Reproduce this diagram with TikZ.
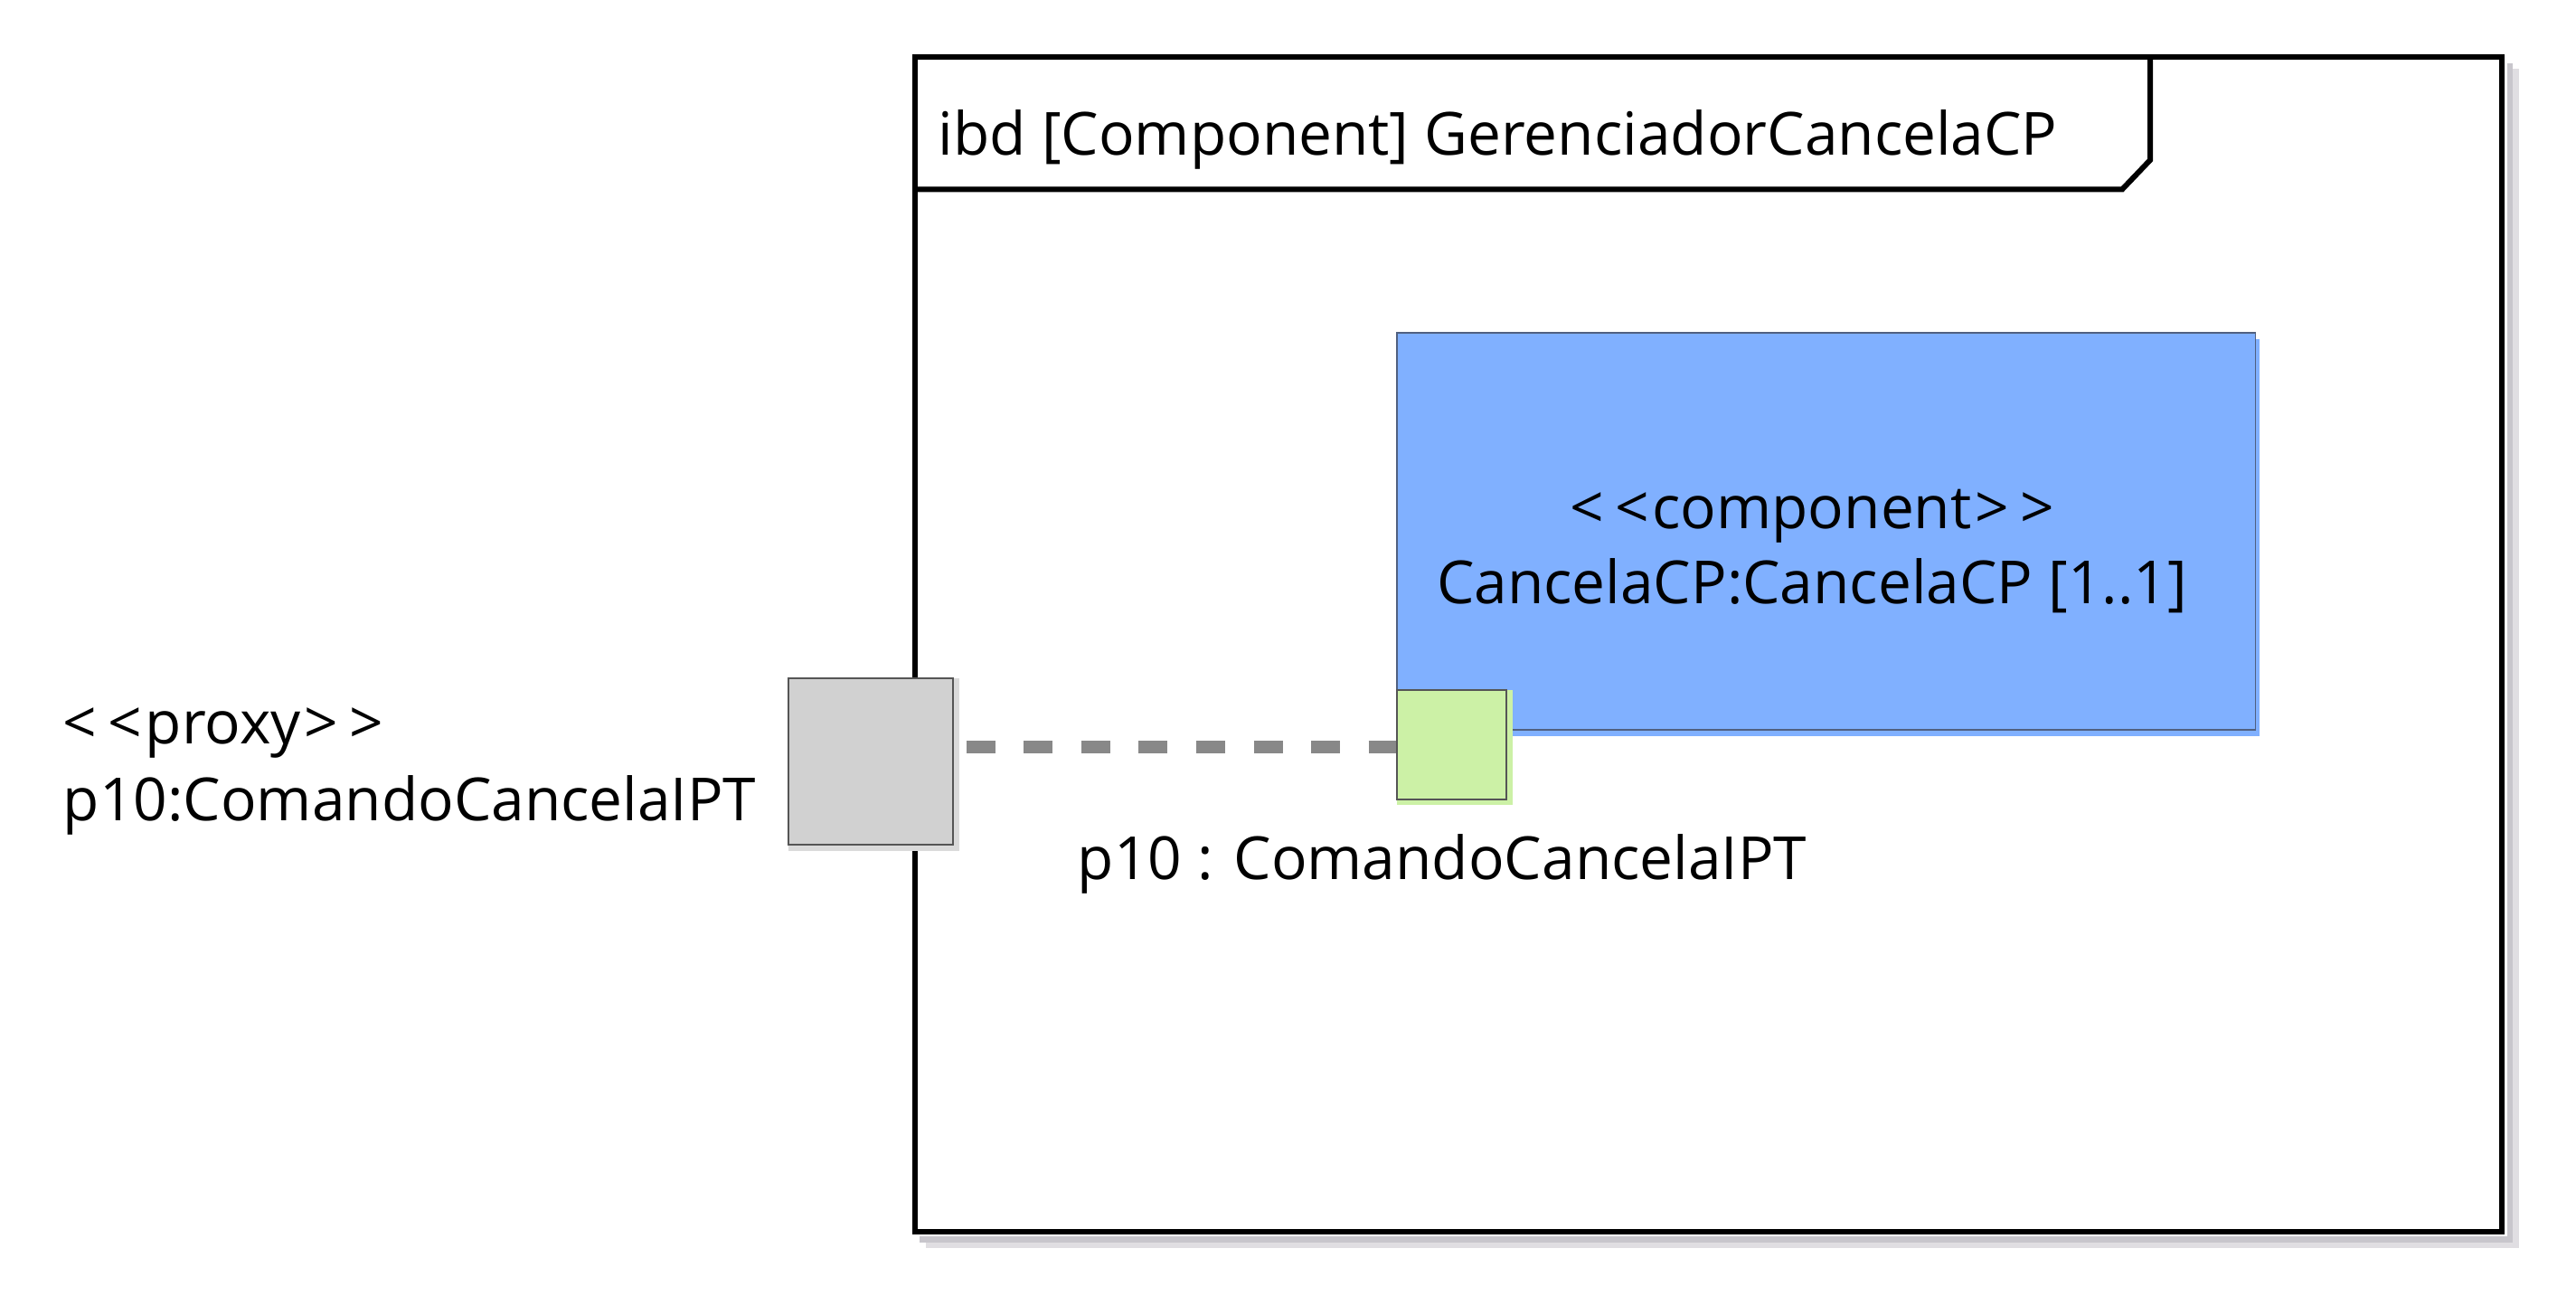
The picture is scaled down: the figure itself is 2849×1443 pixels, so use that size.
\documentclass[tikz,border=0pt]{standalone}
\usepackage{fontspec}
\setmainfont{Open Sans}[Ligatures=TeXOff]
\definecolor{shadowdark}{RGB}{200,198,204}
\definecolor{shadowlight}{RGB}{224,222,226}
\definecolor{compblue}{RGB}{128,176,255}
\definecolor{compborder}{RGB}{80,96,128}
\definecolor{portgreen}{RGB}{204,241,166}
\definecolor{proxygray}{RGB}{209,209,209}
\definecolor{proxyshadow}{RGB}{218,218,218}
\definecolor{portborder}{RGB}{85,85,85}
\definecolor{connector}{RGB}{136,136,136}
\newcommand{\stlt}{<\kern3.5pt<\kern1pt}
\newcommand{\stgt}{\kern1pt>\kern3.5pt>}
\begin{document}
\begin{tikzpicture}[x=0.01cm,y=-0.01cm,
  lbl/.style={inner sep=0pt, font=\fontsize{18.7}{23.5}\selectfont},
  frameline/.style={line width=0.06cm, black, line join=miter},
  compbox/.style={draw=compborder, line width=0.015cm, fill=compblue, inner sep=0pt},
  portbox/.style={draw=portborder, line width=0.015cm, inner sep=0pt},
  connline/.style={draw=connector, line width=0.13cm, dash pattern=on 0.32cm off 0.315cm}]
\useasboundingbox (0,0) rectangle (2849,1443);
% frame with shadow
\fill[shadowlight] (1024,76) rectangle (2786,1380);
\fill[shadowdark] (1017,70) rectangle (2779,1374);
\fill[white] (1008,60) rectangle (2773,1367);
\draw[frameline] (1011.5,63.5) rectangle (2766.5,1361.5);
\draw[frameline] (1011.5,209.5) -- (2347,209.5) -- (2378,177) -- (2378,63.5);
\node[lbl, anchor=base west] (title) at (1037,172) {ibd [Component] GerenciadorCancelaCP};
% component part
\fill[compblue] (1550,375) rectangle (2499,814);
\node[compbox, minimum width=9.49cm, minimum height=4.39cm] (cp) at (2019.5,587.5) {};
\node[lbl, anchor=base] (cpstereo) at (2004,585) {\stlt component\stgt};
\node[lbl, anchor=base] (cpname) at (2004,668) {CancelaCP:CancelaCP [1..1]};
% proxy port on frame
\fill[proxyshadow] (872,750) rectangle (1061,941);
\node[portbox, fill=proxygray, minimum width=1.82cm, minimum height=1.84cm] (pp) at (963,842) {};
\node[lbl, anchor=base west] (pplbl1) at (69,822) {\stlt proxy\stgt};
\node[lbl, anchor=base west] (pplbl2) at (69,907) {p10:ComandoCancelaIPT};
% connector
\draw[connline, shorten <=0.14cm] (pp.east |- 0,826) -- (1545,826);
% inner port
\fill[portgreen] (1545,763) rectangle (1673,890);
\node[portbox, fill=portgreen, minimum width=1.21cm, minimum height=1.21cm] (gp) at (1605.5,823.5) {};
\node[lbl, anchor=base west] (gplbl) at (1191,972) {p10 : ComandoCancelaIPT};
\end{tikzpicture}
\end{document}
